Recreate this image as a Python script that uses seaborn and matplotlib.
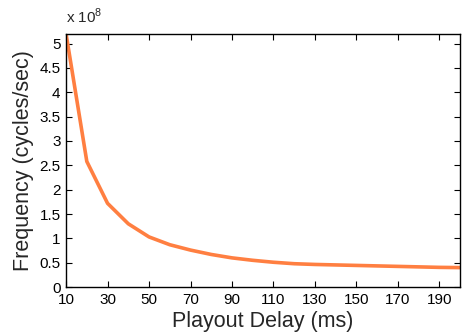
import matplotlib
matplotlib.use('Agg')
import matplotlib.pyplot as plt
import seaborn as sns
import pandas as pd
from matplotlib.ticker import FuncFormatter

# playout delay (ms) and frequency in units of 1e8 cycles/sec
delay_ms = [10, 20, 30, 40, 50, 60, 70, 80, 90, 100,
            110, 120, 130, 140, 150, 160, 170, 180, 190, 200]
freq_e8 = [5.2, 2.58, 1.72, 1.30, 1.03, 0.87, 0.76, 0.67, 0.60, 0.55,
           0.51, 0.48, 0.465, 0.455, 0.445, 0.435, 0.425, 0.415, 0.405, 0.40]

df = pd.DataFrame({'delay': delay_ms, 'freq': freq_e8})

sns.set_style('ticks')
plt.rcParams['font.family'] = ['Liberation Sans', 'DejaVu Sans']
plt.rcParams['mathtext.fontset'] = 'custom'
plt.rcParams['mathtext.rm'] = 'Liberation Sans'

fig = plt.figure(figsize=(4.62, 3.35), dpi=100)
ax = fig.add_axes([0.143, 0.143, 0.853, 0.756])

sns.lineplot(data=df, x='delay', y='freq', color='#ff7f41', linewidth=2.6, ax=ax)

ax.set_xlim(10, 200)
ax.set_ylim(0, 5.2)
ax.set_xticks(range(10, 200, 20))
ax.set_yticks([0, 0.5, 1, 1.5, 2, 2.5, 3, 3.5, 4, 4.5, 5])
ax.yaxis.set_major_formatter(FuncFormatter(lambda v, p: '%g' % v))

for s in ax.spines.values():
    s.set_visible(True)
    s.set_linewidth(1.0)
    s.set_color('black')
ax.tick_params(direction='in', length=4, width=0.8, top=True, right=True,
               labelsize=11, colors='black', pad=4)

ax.set_xlabel('Playout Delay (ms)', fontsize=15.5, labelpad=3)
ax.set_ylabel('Frequency (cycles/sec)', fontsize=15.5, labelpad=4)
ax.text(0.0, 1.03, r'x 10$^{8}$', transform=ax.transAxes, fontsize=11,
        ha='left', va='bottom')

fig.savefig('out.png', dpi=100)
